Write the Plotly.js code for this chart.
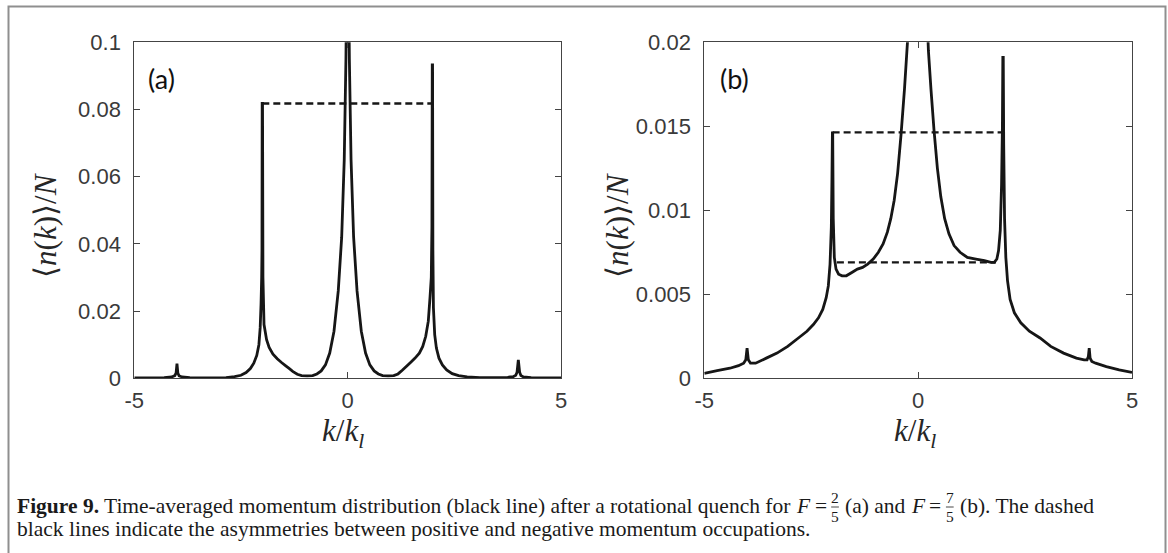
<!DOCTYPE html>
<html><head><meta charset="utf-8">
<script src="https://cdn.plot.ly/plotly-3.0.1.min.js"></script>
<style>html,body{margin:0;padding:0;background:#fff}#chart{width:1168px;height:553px}</style>
</head><body><div id="chart"></div>
<script>
// ---------- data ----------
const kA = [-5.0,-4.6,-4.3,-4.12,-4.05,-4.02,-4.0,-3.98,-3.95,-3.88,-3.7,-3.4,-3.1,-2.85,-2.65,-2.5,-2.38,-2.28,-2.2,-2.13,-2.08,-2.05,-2.03,-2.015,-2.008,-2.003,-1.995,-1.985,-1.96,-1.9,-1.84,-1.75,-1.65,-1.55,-1.45,-1.38,-1.28,-1.18,-1.08,-0.95,-0.82,-0.72,-0.62,-0.52,-0.42,-0.32,-0.22,-0.14,-0.08,-0.04,-0.015,0,0.015,0.04,0.08,0.14,0.22,0.32,0.42,0.52,0.62,0.72,0.82,0.95,1.08,1.18,1.28,1.38,1.48,1.58,1.68,1.76,1.83,1.89,1.93,1.96,1.975,1.983,1.99,1.998,2.01,2.04,2.08,2.14,2.22,2.32,2.45,2.6,2.8,3.1,3.45,3.75,3.88,3.94,3.97,4.0,4.03,4.06,4.12,4.3,4.6,5.0];
const nA = [0.0001,0.0001,0.0002,0.0004,0.0008,0.0016,0.0044,0.0016,0.0007,0.0004,0.0002,0.0001,0.0001,0.0002,0.0005,0.0009,0.0017,0.0029,0.0045,0.0068,0.0100,0.0150,0.0220,0.0300,0.0380,0.0818,0.0818,0.0300,0.0160,0.0115,0.0092,0.0072,0.0058,0.0047,0.0037,0.0030,0.0020,0.0012,0.0008,0.0007,0.0008,0.0013,0.0022,0.0040,0.0075,0.0140,0.0260,0.0420,0.0650,0.0950,0.1300,0.1600,0.1300,0.0950,0.0650,0.0420,0.0260,0.0140,0.0075,0.0040,0.0022,0.0013,0.0008,0.0007,0.0008,0.0013,0.0024,0.0036,0.0048,0.0060,0.0075,0.0095,0.0125,0.0170,0.0240,0.0300,0.0450,0.0933,0.0933,0.0380,0.0210,0.0130,0.0090,0.0060,0.0040,0.0025,0.0014,0.0008,0.0004,0.0002,0.0002,0.0003,0.0005,0.0009,0.0018,0.0055,0.0018,0.0008,0.0004,0.0002,0.0001,0.0001];

const kB = [-5.0,-4.7,-4.4,-4.2,-4.08,-4.03,-4.0,-3.97,-3.92,-3.8,-3.55,-3.3,-3.05,-2.8,-2.6,-2.45,-2.33,-2.23,-2.15,-2.1,-2.06,-2.03,-2.015,-2.005,-1.998,-1.985,-1.96,-1.92,-1.86,-1.78,-1.68,-1.55,-1.42,-1.3,-1.18,-1.05,-0.93,-0.82,-0.72,-0.64,-0.56,-0.48,-0.4,-0.32,-0.25,-0.18,-0.1,0,0.1,0.18,0.24,0.3,0.37,0.45,0.53,0.62,0.72,0.84,0.98,1.15,1.35,1.55,1.7,1.78,1.84,1.88,1.92,1.95,1.97,1.98,1.99,2.0,2.02,2.05,2.09,2.15,2.25,2.4,2.6,2.85,3.1,3.4,3.7,3.88,3.95,3.98,4.0,4.02,4.06,4.15,4.4,4.7,5.0];
const nB = [0.0003,0.00045,0.0006,0.00075,0.0009,0.0011,0.0018,0.0011,0.0009,0.0009,0.0012,0.0015,0.0019,0.0024,0.0028,0.0032,0.0036,0.0041,0.0048,0.0055,0.0068,0.0090,0.0120,0.0146,0.0146,0.0095,0.0072,0.0065,0.0062,0.0061,0.0061,0.0063,0.0065,0.0066,0.0068,0.0071,0.0075,0.0080,0.0087,0.0095,0.0106,0.0122,0.0145,0.0172,0.0200,0.0240,0.0320,0.0500,0.0320,0.0235,0.0195,0.0172,0.0148,0.0125,0.0108,0.0095,0.0086,0.0079,0.0075,0.0072,0.0071,0.0070,0.0069,0.0069,0.0071,0.0076,0.0088,0.0115,0.0150,0.0191,0.0191,0.0140,0.0095,0.0072,0.0058,0.0047,0.0039,0.0033,0.0028,0.0024,0.0019,0.0015,0.0012,0.0011,0.0011,0.0013,0.0018,0.0012,0.0010,0.0009,0.0007,0.0005,0.00035];

const dashA_k = [-2.0, 1.99];
const dashA_n = [0.0818, 0.0818];
const dashB1_k = [-2.0, 1.985];
const dashB1_n = [0.01464, 0.01464];
const dashB2_k = [-1.9, 1.82];
const dashB2_n = [0.0069, 0.0069];

const xTickVals = [-5, 0, 5];
const xTickText = ['-5', '0', '5'];
const yTickValsA = [0, 0.02, 0.04, 0.06, 0.08, 0.1];
const yTickTextA = ['0', '0.02', '0.04', '0.06', '0.08', '0.1'];
const yTickValsB = [0, 0.005, 0.01, 0.015, 0.02];
const yTickTextB = ['0', '0.005', '0.01', '0.015', '0.02'];

const panelLabels = ['(a)', '(b)'];
const xTitle = '<i>k</i>/<i>k</i><sub><i>l</i></sub>';
const yTitle = '⟨<i>n</i>(<i>k</i>)⟩/<i>N</i>';

// ---------- layout helpers ----------
const W = 1168, H = 553;
const px = x => x / W;
const py = y => 1 - y / H;

const curve = {color: '#161616', width: 2.8, simplify: false};
const dash = {color: '#161616', width: 2.4, dash: '7px,4px'};

const traces = [
  {x: kA, y: nA, type: 'scatter', mode: 'lines', line: curve, xaxis: 'x', yaxis: 'y', hoverinfo: 'skip'},
  {x: dashA_k, y: dashA_n, type: 'scatter', mode: 'lines', line: dash, xaxis: 'x', yaxis: 'y', hoverinfo: 'skip'},
  {x: kB, y: nB, type: 'scatter', mode: 'lines', line: curve, xaxis: 'x2', yaxis: 'y2', hoverinfo: 'skip'},
  {x: dashB1_k, y: dashB1_n, type: 'scatter', mode: 'lines', line: dash, xaxis: 'x2', yaxis: 'y2', hoverinfo: 'skip'},
  {x: dashB2_k, y: dashB2_n, type: 'scatter', mode: 'lines', line: dash, xaxis: 'x2', yaxis: 'y2', hoverinfo: 'skip'}
];

const tickFont = {family: '"Liberation Sans", Arial, sans-serif', size: 22, color: '#3a3a3a'};
function xAx(domain, anchor) {
  return {domain: domain, anchor: anchor, range: [-5, 5], tickvals: xTickVals, ticktext: xTickText,
    ticks: 'inside', ticklen: 6, tickwidth: 1, tickcolor: '#444', showline: true, linecolor: '#444', linewidth: 1,
    mirror: 'ticks', showgrid: false, zeroline: false, tickfont: tickFont, ticklabelstandoff: 2, fixedrange: true};
}
function yAx(range, vals, text, anchor) {
  return {domain: [py(378.3), py(42.3)], anchor: anchor, range: range, tickvals: vals, ticktext: text,
    ticks: 'inside', ticklen: 6, tickwidth: 1, tickcolor: '#444', showline: true, linecolor: '#444', linewidth: 1,
    mirror: 'ticks', showgrid: false, zeroline: false, tickfont: tickFont, ticklabelstandoff: 8, fixedrange: true};
}

const titleFont = {family: '"Liberation Serif", "DejaVu Serif", serif', size: 31, color: '#262626'};
const labelFont = {family: 'Lato, "Open Sans", sans-serif', size: 27, color: '#111'};

function ann(text, x, y, font, extra) {
  return Object.assign({text: text, x: px(x), y: py(y), xref: 'paper', yref: 'paper', showarrow: false,
    xanchor: 'center', yanchor: 'middle', font: font}, extra || {});
}

const annotations = [
  ann(panelLabels[0], 161, 78, labelFont),
  ann(panelLabels[1], 734, 78, labelFont),
  ann(xTitle, 343, 433, titleFont),
  ann(xTitle, 915, 433, titleFont),
  ann(yTitle, 45, 225, titleFont, {textangle: -90}),
  ann(yTitle, 617, 225, titleFont, {textangle: -90})
];

// ---------- caption ----------
const capFamily = '"Liberation Serif", "Times New Roman", serif';
const capColor = '#1a1a1a';
const canvas = document.createElement('canvas');
const ctx = canvas.getContext('2d');
function tw(text, size, style) {
  ctx.font = (style || '') + ' ' + size + 'px "Liberation Serif"';
  return ctx.measureText(text).width;
}
const capPieces1 = [
  {t: 'Figure 9.', s: 'bold'},
  {t: ' Time-averaged momentum distribution (black line) after a rotational quench for ', s: ''},
  {t: 'F', s: 'italic'}, {t: ' = ', s: ''}, {frac: ['2', '5']}, {t: ' (a) and ', s: ''},
  {t: 'F', s: 'italic'}, {t: ' = ', s: ''}, {frac: ['7', '5']}, {t: ' (b). The dashed', s: ''}
];
const capLine2 = 'black lines indicate the asymmetries between positive and negative momentum occupations.';
const capX0 = 16, capEnd = 1094, capY1 = 506, capY2 = 529;

function lineWidth(size) {
  let w = 0;
  capPieces1.forEach(p => { w += p.frac ? tw('0', size * 0.72, '') : tw(p.t, size, p.s); });
  return w;
}
let capSize = 17;
capSize = Math.round(capSize * (capEnd - capX0) / lineWidth(capSize) * 10) / 10;

const shapes = [
  {type: 'rect', xref: 'paper', yref: 'paper', x0: px(8.5), x1: px(1165.5), y0: py(600), y1: py(6.5), line: {color: '#8f8f8f', width: 2}, fillcolor: 'rgba(0,0,0,0)'}
];

let cx = capX0;
capPieces1.forEach(p => {
  if (p.frac) {
    const fs = capSize * 0.72;
    const fw = tw(p.frac[0], fs, '');
    const mid = cx + fw / 2;
    annotations.push(ann(p.frac[0], mid, capY1 - 8, {family: capFamily, size: fs, color: capColor}, {borderpad: 0}));
    annotations.push(ann(p.frac[1], mid, capY1 + 10, {family: capFamily, size: fs, color: capColor}, {borderpad: 0}));
    shapes.push({type: 'line', xref: 'paper', yref: 'paper', x0: px(cx), x1: px(cx + fw), y0: py(capY1 + 1), y1: py(capY1 + 1),
      line: {color: capColor, width: 0.8}});
    cx += fw;
  } else {
    const lead = p.t.length - p.t.trimStart().length;
    const trimmed = p.t.trim();
    const leadW = tw(p.t.slice(0, lead), capSize, p.s);
    let txt = trimmed;
    if (p.s === 'bold') txt = '<b>' + trimmed + '</b>';
    if (p.s === 'italic') txt = '<i>' + trimmed + '</i>';
    annotations.push(ann(txt, cx + leadW, capY1, {family: capFamily, size: capSize, color: capColor}, {xanchor: 'left', borderpad: 0}));
    cx += tw(p.t, capSize, p.s);
  }
});
annotations.push(ann(capLine2, capX0, capY2, {family: capFamily, size: capSize, color: capColor}, {xanchor: 'left', borderpad: 0}));

const layout = {
  width: W, height: H, margin: {l: 0, r: 0, t: 0, b: 0}, showlegend: false,
  paper_bgcolor: '#fff', plot_bgcolor: '#fff',
  xaxis: xAx([px(134.3), px(561)], 'y'),
  yaxis: yAx([0, 0.1], yTickValsA, yTickTextA, 'x'),
  xaxis2: xAx([px(704.3), px(1132)], 'y2'),
  yaxis2: yAx([0, 0.02], yTickValsB, yTickTextB, 'x2'),
  annotations: annotations, shapes: shapes
};

Plotly.newPlot('chart', traces, layout, {displayModeBar: false, staticPlot: true});
</script>
</body></html>
